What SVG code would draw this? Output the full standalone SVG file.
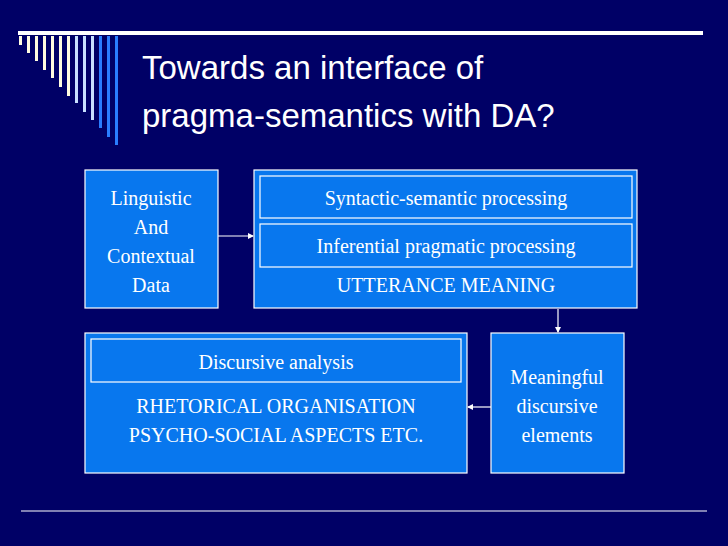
<svg xmlns="http://www.w3.org/2000/svg" width="728" height="546" viewBox="0 0 728 546">
<defs>
<style>
.box{fill:#0877ee;stroke:#ffffff;stroke-width:1.2}
.in{fill:none;stroke:#ffffff;stroke-width:1.2}
.t{font-family:"Liberation Serif",serif;font-size:20px;fill:#ffffff;text-anchor:middle}
.c{stroke:#ffffff;stroke-width:1.2;fill:none;marker-end:url(#ah)}
</style>
<marker id="ah" markerWidth="6" markerHeight="6" refX="5" refY="3" orient="auto" markerUnits="userSpaceOnUse"><path d="M0,0 L6,3 L0,6 z" fill="#ffffff"/></marker>
</defs>
<rect width="728" height="546" fill="#000066"/>
<rect x="18" y="31" width="685" height="4" fill="#ffffff"/>
<line x1="21" y1="511" x2="707" y2="511" stroke="#ffffff" stroke-width="1.2"/>
<g id="deco">
<rect x="19" y="36" width="3" height="9" fill="#fffbe0"/>
<rect x="27" y="36" width="3" height="17" fill="#fffbe0"/>
<rect x="35" y="36" width="3" height="25" fill="#fffbe0"/>
<rect x="43" y="36" width="3" height="34" fill="#fffbe0"/>
<rect x="51" y="36" width="3" height="42" fill="#fffbe0"/>
<rect x="59" y="36" width="3" height="51" fill="#fffbe0"/>
<rect x="67" y="36" width="3" height="60" fill="#fffbe0"/>
<rect x="75" y="36" width="3" height="67" fill="#c8e0ff"/>
<rect x="83" y="36" width="3" height="76" fill="#c8e0ff"/>
<rect x="91" y="36" width="3" height="84" fill="#c8e0ff"/>
<rect x="99" y="36" width="3" height="92" fill="#2a7dff"/>
<rect x="107" y="36" width="3" height="101" fill="#2a7dff"/>
<rect x="115" y="36" width="3" height="109" fill="#2a7dff"/>
</g>
<g id="title" font-family="Liberation Sans,sans-serif" font-size="33" fill="#ffffff">
<text x="142" y="79">Towards an interface of</text>
<text x="142" y="127">pragma-semantics with DA?</text>
</g>
<g id="data">
<rect class="box" x="85" y="170" width="133" height="138"/>
<text class="t" x="151" y="205">Linguistic</text>
<text class="t" x="151" y="234">And</text>
<text class="t" x="151" y="263">Contextual</text>
<text class="t" x="151" y="292">Data</text>
</g>
<g id="utterance">
<rect class="box" x="254" y="170" width="383" height="138"/>
<rect class="in" x="260" y="176" width="372" height="42"/>
<text class="t" x="446" y="205">Syntactic-semantic processing</text>
<rect class="in" x="260" y="224" width="372" height="43"/>
<text class="t" x="446" y="253">Inferential pragmatic processing</text>
<text class="t" x="446" y="292">UTTERANCE MEANING</text>
</g>
<g id="rhetorical">
<rect class="box" x="85" y="333" width="382" height="140"/>
<rect class="in" x="91" y="339" width="370" height="43"/>
<text class="t" x="276" y="369">Discursive analysis</text>
<text class="t" x="276" y="413">RHETORICAL ORGANISATION</text>
<text class="t" x="276" y="442">PSYCHO-SOCIAL ASPECTS ETC.</text>
</g>
<g id="meaningful">
<rect class="box" x="491" y="333" width="133" height="140"/>
<text class="t" x="557" y="384">Meaningful</text>
<text class="t" x="557" y="413">discursive</text>
<text class="t" x="557" y="442">elements</text>
</g>
<g id="connectors">
<line class="c" x1="218" y1="236" x2="253" y2="236"/>
<line class="c" x1="558" y1="309" x2="558" y2="332"/>
<line class="c" x1="491" y1="407" x2="468" y2="407"/>
</g>
</svg>
